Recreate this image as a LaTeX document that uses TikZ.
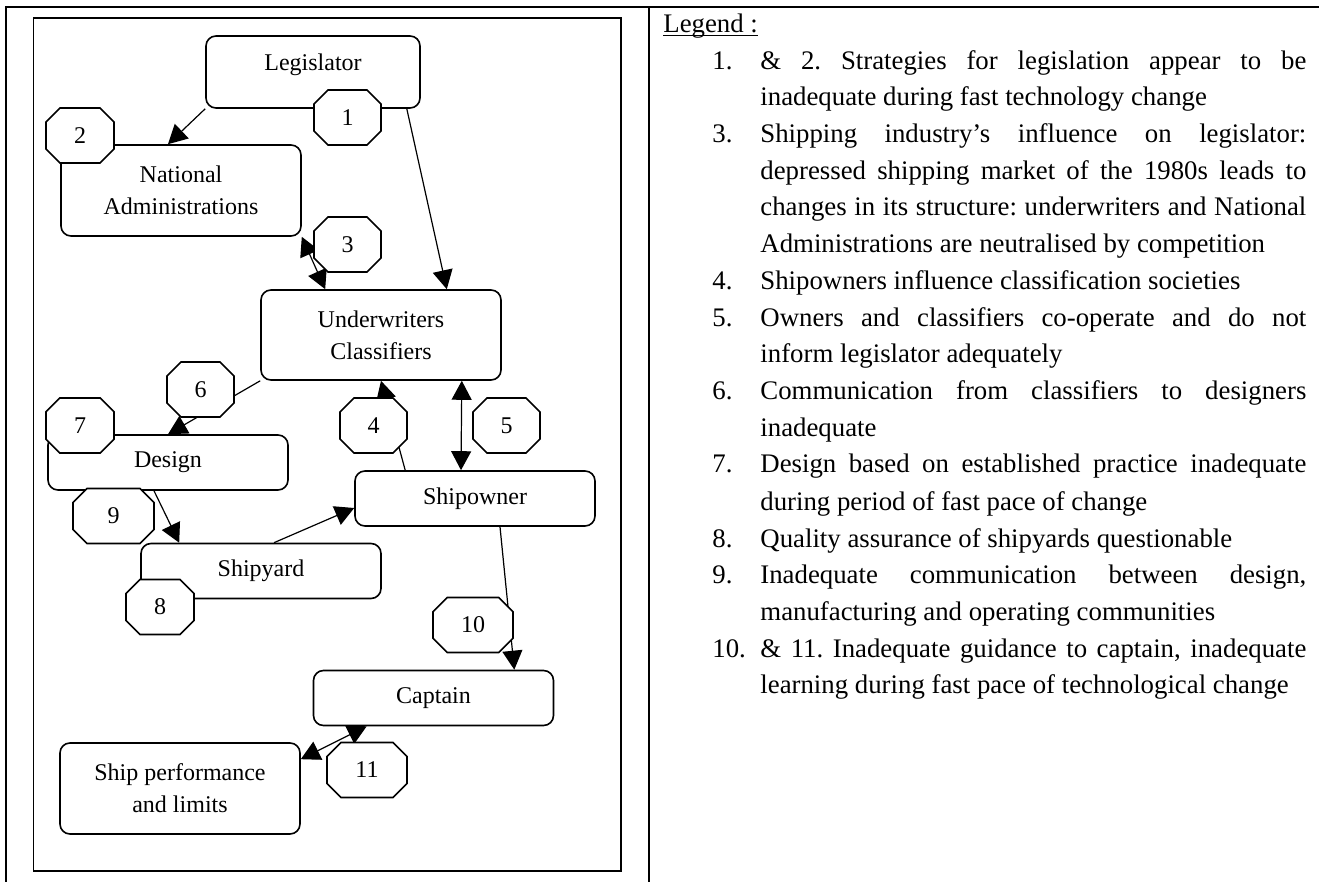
\documentclass[tikz,border=0pt]{standalone}
\usepackage{fontspec}
\setmainfont{Liberation Serif}
\usetikzlibrary{arrows.meta,shapes.misc}
\newcommand{\jl}[1]{\makebox[273pt][s]{#1}}
\frenchspacing

\begin{document}
\begin{tikzpicture}[x=0.5pt, y=-0.5pt,
    font=\fontsize{12}{16}\selectfont,
    stage/.style={draw, line width=0.8pt, rounded corners=5pt, fill=white,
      minimum width=120pt, minimum height=27.5pt, inner sep=0pt, align=center},
    octa/.style={draw, line width=0.8pt, fill=white, chamfered rectangle,
      chamfered rectangle xsep=7.5pt, minimum width=33.5pt, minimum height=27.5pt, inner sep=0pt},
    flow/.style={line width=0.6pt, -{Triangle[length=9.5pt,width=10pt]}},
    twoway/.style={line width=0.6pt, {Triangle[length=9.5pt,width=10pt]}-{Triangle[length=9.5pt,width=10pt]}},
    legtext/.style={anchor=base west, inner sep=0pt, font=\fontsize{13.4}{18.35}\selectfont}]

	% Page and table rules
	\useasboundingbox (0,0) rectangle (1319,882);
	\draw[line width=1pt] (6,882) -- (6,7.5) -- (1319,7.5);
	\draw[line width=1pt] (649,7.5) -- (649,882);
	\draw[line width=0.8pt] (33.5,18) rectangle (621,871);

	% Actors
	\node[stage, minimum width=107pt, minimum height=36pt, text height=8pt, text depth=9pt] (leg) at (313,72) {Legislator};
	\node[stage, minimum height=45.5pt] (nat) at (181,190.5) {National\\Administrations};
	\node[stage, minimum height=45pt] (uw) at (381,335) {Underwriters\\Classifiers};
	\node[stage] (des) at (168,462.5) {Design};
	\node[stage] (own) at (475,498.5) {Shipowner};
	\node[stage] (yard) at (261,571) {Shipyard};
	\node[stage] (capt) at (433.5,698) {Captain};
	\node[stage, minimum height=45.5pt] (perf) at (180,788.5) {Ship performance\\and limits};

	% Links
	\draw[flow] (leg.south west) -- ([xshift=-6.5pt]nat.north);
	\draw[flow] ([xshift=-7pt]leg.south east) -- ([xshift=-27.5pt]uw.north east);
	\draw[twoway] (nat.south east) -- ([xshift=32.5pt]uw.north west);
	\draw[flow] (uw.south west) -- (des.north);
	\draw[flow] ([xshift=25.5pt]own.north west) -- (uw.south);
	\draw[twoway] ([xshift=-20pt]uw.south east) -- ([xshift=-7pt]own.north);
	\draw[flow] ([xshift=-7pt]des.south) -- ([xshift=19.5pt]yard.north west);
	\draw[flow] ([xshift=6.5pt]yard.north) -- ([yshift=-4.75pt]own.west);
	\draw[flow] ([xshift=12.5pt]own.south) -- ([xshift=-20pt]capt.north east);
	\draw[twoway] ([xshift=27pt]capt.south west) -- ([yshift=-8.5pt]perf.north east);

	% Numbered markers
	\foreach \k/\xx/\yy/\ww in {1/347.5/117.5/33.5, 2/80/135.5/34, 3/347.5/244.5/33.5,
	    4/373.5/425.5/33.5, 5/506.5/425.5/33.5, 6/200.5/389.5/33.5, 7/80/425.5/34,
	    8/160/607/34, 9/113.5/516/40.5, 10/473/625/40, 11/367/770/40}
		\node[octa, minimum width=\ww pt] (oct\k) at (\xx,\yy) {\k};

	% Legend
	\node[legtext] (legend) at (663,33) {\underline{\smash{Legend :}}};
	\foreach \k/\yy in {1/70, 3/143, 4/290, 5/327, 6/400, 7/473, 8/547, 9/583, 10/657}
		\node[legtext] (num\k) at (712,\yy) {\k.};
	\foreach \yy/\txt in {
	    70/{\jl{\& 2. Strategies for legislation appear to be}},
	    106/{inadequate during fast technology change},
	    143/{\jl{Shipping industry’s influence on legislator:}},
	    180/{\jl{depressed shipping market of the 1980s leads to}},
	    216/{\jl{changes in its structure: underwriters and National}},
	    253/{Administrations are neutralised by competition},
	    290/{Shipowners influence classification societies},
	    327/{\jl{Owners and classifiers co-operate and do not}},
	    363/{inform legislator adequately},
	    400/{\jl{Communication from classifiers to designers}},
	    437/{inadequate},
	    473/{\jl{Design based on established practice inadequate}},
	    510/{during period of fast pace of change},
	    547/{Quality assurance of shipyards questionable},
	    583/{\jl{Inadequate communication between design,}},
	    620/{manufacturing and operating communities},
	    657/{\jl{\& 11. Inadequate guidance to captain, inadequate}},
	    693/{learning during fast pace of technological change}}
		\node[legtext] (line\yy) at (760,\yy) {\txt};
\end{tikzpicture}
\end{document}
